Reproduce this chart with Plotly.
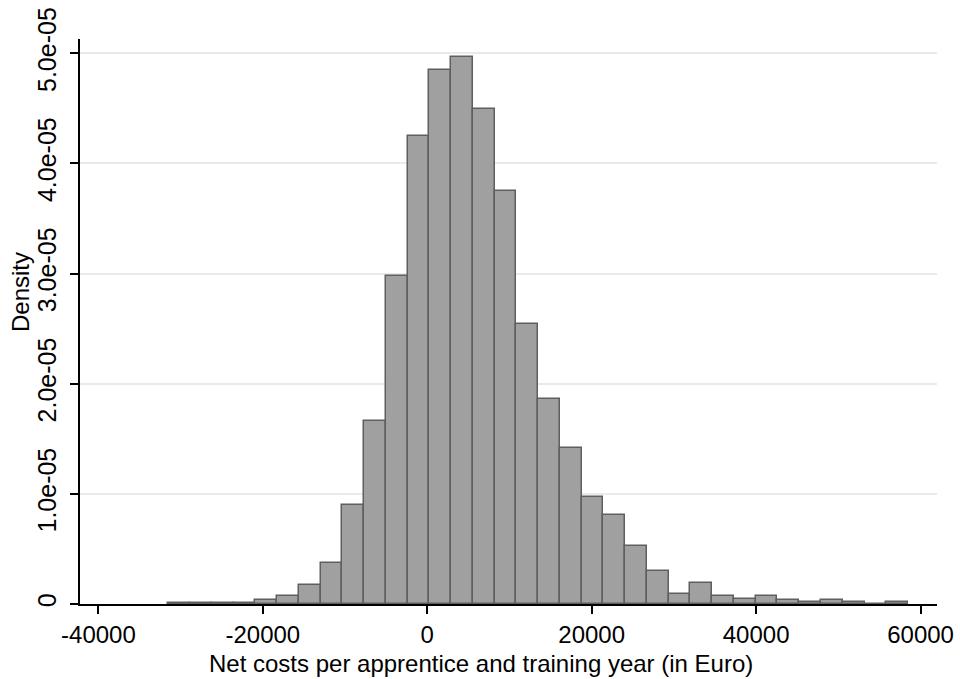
import plotly.graph_objects as go

# Histogram bins (left edges, Euro) and bin width
bin_lefts = [-31490, -28844, -26198, -23552, -20906, -18260, -15614, -12968, -10322, -7676,
             -5030, -2384, 262, 2908, 5554, 8200, 10846, 13492, 16138, 18784,
             21430, 24076, 26722, 29368, 32014, 34660, 37306, 39952, 42598, 45244,
             47890, 50536, 53182, 55828]
bin_width = 2646

# Density values (x 1e-6)
density_e6 = [0.12, 0.12, 0.12, 0.12, 0.33, 0.73, 1.7, 3.75, 9.0, 16.6,
              29.8, 42.5, 48.5, 49.7, 44.9, 37.5, 25.4, 18.6, 14.2, 9.75,
              8.1, 5.27, 3.0, 0.9, 1.94, 0.73, 0.48, 0.73, 0.36, 0.15,
              0.33, 0.15, 0.0, 0.15]

x_ticks = [-40000, -20000, 0, 20000, 40000, 60000]
y_ticks = [0, 1e-5, 2e-5, 3e-5, 4e-5, 5e-5]
y_tick_text = ["0", "1.0e-05", "2.0e-05", "3.0e-05", "4.0e-05", "5.0e-05"]

centers = [l + bin_width / 2 for l in bin_lefts]
dens = [d * 1e-6 for d in density_e6]

FONT = "Liberation Sans, Arial, sans-serif"

fig = go.Figure()
fig.add_trace(go.Bar(
    x=centers, y=dens, width=[bin_width] * len(centers),
    marker=dict(color="#a0a0a0", line=dict(color="#5f5f5f", width=1.5)),
    showlegend=False,
))

fig.update_layout(
    width=960, height=679,
    margin=dict(l=80, r=23, t=39, b=75, autoexpand=False),
    paper_bgcolor="white", plot_bgcolor="white",
    font=dict(family=FONT, size=24, color="black"),
    bargap=0,
)
fig.update_xaxes(
    range=[-42240, 62000],
    tickvals=x_ticks, ticktext=[str(v) for v in x_ticks],
    showline=True, linecolor="black", linewidth=1.5,
    ticks="outside", ticklen=8, tickwidth=1.5, tickcolor="black",
    showgrid=False, zeroline=False, automargin=False,
    tickfont=dict(size=24), ticklabelstandoff=0,
)
fig.update_yaxes(
    range=[0, 51.3e-6],
    tickvals=y_ticks, ticktext=y_tick_text, tickangle=-90,
    showline=True, linecolor="black", linewidth=1.5,
    ticks="outside", ticklen=8, tickwidth=1.5, tickcolor="black",
    showgrid=True, gridcolor="#eaeaea", gridwidth=1.5, zeroline=False,
    automargin=False,
    tickfont=dict(size=25), ticklabelstandoff=4,
)

plot_l, plot_r, plot_t, plot_b = 80, 937, 39, 604
pw, ph = plot_r - plot_l, plot_b - plot_t

fig.add_annotation(
    text="Net costs per apprentice and training year (in Euro)",
    xref="paper", yref="paper",
    x=(481 - plot_l) / pw, y=(plot_b - 663) / ph,
    xanchor="center", yanchor="middle", showarrow=False,
    font=dict(size=24),
)
fig.add_annotation(
    text="Density",
    xref="paper", yref="paper",
    x=(20 - plot_l) / pw, y=(plot_b - 292) / ph,
    xanchor="center", yanchor="middle", showarrow=False, textangle=-90,
    font=dict(size=24),
)

fig.write_html("out.html")
